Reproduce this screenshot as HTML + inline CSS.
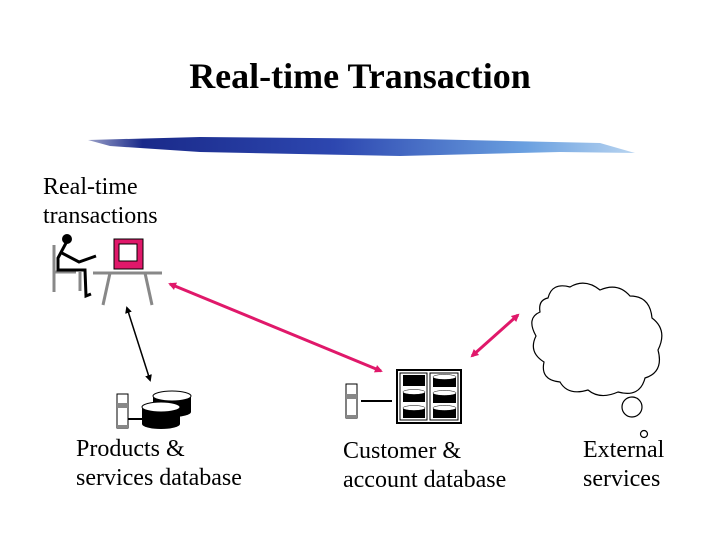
<!DOCTYPE html>
<html><head><meta charset="utf-8"><style>
body{margin:0;background:#fff}
svg{display:block}
text{font-family:"Liberation Serif",serif;fill:#000}
</style></head><body>
<svg width="720" height="540" viewBox="0 0 720 540" xmlns="http://www.w3.org/2000/svg">
<defs>
<linearGradient id="g" x1="0" x2="1">
<stop offset="0" stop-color="#9aa0c8"/><stop offset="0.1" stop-color="#1a2a8a"/>
<stop offset="0.45" stop-color="#2d47b0"/><stop offset="0.8" stop-color="#6aa0e0"/><stop offset="1" stop-color="#b8d4f0"/>
</linearGradient>
<marker id="pa" markerWidth="8" markerHeight="8" refX="6" refY="4" orient="auto-start-reverse" markerUnits="userSpaceOnUse"><path d="M0,0 L8,4 L0,8 Z" fill="#e0186a"/></marker>
<marker id="ba" markerWidth="7" markerHeight="7" refX="5" refY="3.5" orient="auto-start-reverse" markerUnits="userSpaceOnUse"><path d="M0,0 L7,3.5 L0,7 Z" fill="#000"/></marker>
</defs>
<text x="360" y="88" font-size="36" font-weight="bold" text-anchor="middle">Real-time Transaction</text>
<path d="M88,140 L200,137 L420,139 L600,143 L635,153 L560,152 L400,156 L200,152 L110,146 Z" fill="url(#g)"/>
<text x="43" y="194" font-size="24">Real-time</text>
<text x="43" y="223" font-size="24">transactions</text>
<g stroke="#888" stroke-width="3" fill="none">
<path d="M54,245 V292"/><path d="M54,272 H76"/><path d="M80,272 V291"/>
<path d="M93,273 H162"/><path d="M110,273 L103,305"/><path d="M145,273 L152,305"/>
</g>
<circle cx="67" cy="239" r="5" fill="#000"/>
<g stroke="#000" stroke-width="3" fill="none">
<path d="M66,243 L58,258 L58,270 L85,270 L86,296 L91,294"/>
<path d="M60,252 L79,262 L96,256"/>
</g>
<rect x="114" y="239" width="29" height="30" fill="#e0186a" stroke="#000" stroke-width="1"/>
<rect x="119" y="244" width="18" height="17" fill="#fff" stroke="#000" stroke-width="1"/>
<line x1="170" y1="284" x2="381" y2="371" stroke="#e0186a" stroke-width="3" marker-start="url(#pa)" marker-end="url(#pa)"/>
<line x1="472" y1="356" x2="518" y2="315" stroke="#e0186a" stroke-width="3" marker-start="url(#pa)" marker-end="url(#pa)"/>
<line x1="127" y1="308" x2="150" y2="380" stroke="#000" stroke-width="1.5" marker-start="url(#ba)" marker-end="url(#ba)"/>
<rect x="117" y="394" width="11" height="34" fill="#fff" stroke="#000"/>
<rect x="117" y="403" width="11" height="5" fill="#888"/>
<rect x="117" y="425" width="11" height="3" fill="#888"/>
<line x1="128" y1="419" x2="143" y2="419" stroke="#000" stroke-width="2"/>
<path d="M153,396 V412 A19,5 0 0 0 191,412 V396 Z" fill="#000"/><ellipse cx="172" cy="396" rx="19" ry="5" fill="#fff" stroke="#000"/>
<path d="M142,407 V424 A19,5 0 0 0 180,424 V407 Z" fill="#000"/><ellipse cx="161" cy="407" rx="19" ry="5" fill="#fff" stroke="#000"/>
<text x="76" y="456" font-size="24">Products &amp;</text>
<text x="76" y="485" font-size="24">services database</text>
<rect x="346" y="384" width="11" height="34" fill="#fff" stroke="#000"/>
<rect x="346" y="394" width="11" height="5" fill="#888"/>
<rect x="346" y="415" width="11" height="3" fill="#888"/>
<line x1="361" y1="401" x2="392" y2="401" stroke="#000" stroke-width="2"/>
<rect x="397" y="370" width="64" height="53" fill="#fff" stroke="#000" stroke-width="2"/>
<rect x="400" y="373" width="27" height="47" fill="none" stroke="#000"/>
<rect x="430" y="373" width="28" height="47" fill="none" stroke="#000"/>
<g fill="#000">
<rect x="403" y="375" width="22" height="11"/>
<rect x="403" y="392" width="22" height="10"/><rect x="403" y="408" width="22" height="10"/>
<rect x="433" y="377" width="23" height="10"/><rect x="433" y="393" width="23" height="10"/><rect x="433" y="408" width="23" height="10"/>
</g>
<g fill="#fff" stroke="#000" stroke-width="0.5">
<ellipse cx="414" cy="392" rx="11" ry="2.5"/><ellipse cx="414" cy="408" rx="11" ry="2.5"/>
<ellipse cx="444.5" cy="377" rx="11.5" ry="2.5"/><ellipse cx="444.5" cy="393" rx="11.5" ry="2.5"/><ellipse cx="444.5" cy="408" rx="11.5" ry="2.5"/>
</g>
<text x="343" y="458" font-size="24">Customer &amp;</text>
<text x="343" y="487" font-size="24">account database</text>
<path d="M548,298 Q552,282 570,287 Q585,278 600,290 Q618,282 630,296 Q650,296 652,318 Q668,330 658,350 Q664,372 645,378 Q640,398 618,392 Q600,400 588,390 Q568,396 560,382 Q540,380 544,362 Q528,352 536,336 Q526,318 540,312 Q538,300 548,298 Z" fill="#fff" stroke="#000" stroke-width="1.2"/>
<circle cx="632" cy="407" r="10" fill="#fff" stroke="#000" stroke-width="1.2"/>
<circle cx="644" cy="434" r="3.5" fill="#fff" stroke="#000" stroke-width="1.2"/>
<text x="583" y="457" font-size="24">External</text>
<text x="583" y="486" font-size="24">services</text>
</svg>
</body></html>
